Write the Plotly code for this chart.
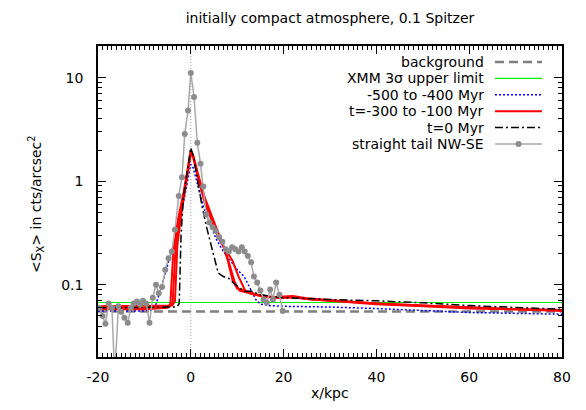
import plotly.graph_objects as go

# ---------------- data ----------------
bg_level = 0.0553
xmm_limit = 0.0675
x_span = [-20, 80]
x_ticks = [-20, 0, 20, 40, 60, 80]
x_tick_labels = ["-20", "0", "20", "40", "60", "80"]
y_ticks = [0.1, 1, 10]
y_tick_labels = ["0.1", "1", "10"]

# observed profile: straight tail NW-SE
obs_x = [-19.7, -19.0, -18.4, -17.7, -17.0, -16.4, -15.6, -15.0, -14.3, -13.6,
         -12.9, -12.3, -11.6, -10.9, -10.3, -9.6, -8.9, -8.2, -7.5, -6.9,
         -6.2, -5.5, -4.8, -4.1, -3.4, -2.6, -1.9, -1.3, -0.6, 0.0,
         0.7, 1.4, 2.1, 2.7, 3.3, 4.0, 4.7, 5.4, 6.1, 6.8,
         7.5, 8.2, 8.9, 9.6, 10.3, 11.0, 11.6, 12.3, 13.0, 13.6,
         14.3, 15.0, 15.7, 16.4, 17.1, 17.7, 18.4, 19.1, 19.8]
obs_y = [0.060, 0.050, 0.042, 0.066, 0.060, 0.013, 0.062, 0.055, 0.048, 0.043,
         0.060, 0.066, 0.069, 0.064, 0.070, 0.066, 0.043, 0.075, 0.100, 0.083,
         0.095, 0.140, 0.180, 0.210, 0.34, 0.72, 1.09, 2.86, 4.8, 11.1,
         6.5, 2.35, 1.47, 0.89, 0.48, 0.40, 0.36, 0.33, 0.29, 0.26,
         0.22, 0.21, 0.23, 0.22, 0.21, 0.23, 0.21, 0.19, 0.165, 0.12,
         0.105, 0.088, 0.072, 0.067, 0.090, 0.072, 0.105, 0.080, 0.056]

# simulation -500 to -400 Myr (blue dotted)
blue_x = [-20, -10, -8.5, -7.5, -6.5, -5.5, -4.5, -3.5, -2.5, -1.5, -0.5, 0, 0.5,
          1.5, 2.7, 4, 5.6, 7, 8.5, 10, 11.5, 13, 14, 15, 17, 20, 25, 30, 40, 50,
          60, 70, 80]
blue_y = [0.056, 0.056, 0.057, 0.065, 0.09, 0.13, 0.19, 0.26, 0.38, 0.65, 1.15,
          1.45, 1.35, 0.9, 0.57, 0.40, 0.27, 0.21, 0.17, 0.14, 0.12, 0.09, 0.072,
          0.065, 0.063, 0.062, 0.062, 0.061, 0.059, 0.056, 0.054, 0.053, 0.052]

# simulations t=-300 to -100 Myr (red)
red1_x = [-20, -10, -5, -4.4, -3.8, -2.8, -1.5, -0.5, 0, 0.5, 1.5, 3, 4.5, 6, 7,
          8, 9, 10, 12, 14, 16, 18, 20, 22, 25, 30, 40, 50, 60, 70, 80]
red1_y = [0.058, 0.058, 0.060, 0.066, 0.20, 0.42, 0.80, 1.5, 2.0, 1.8, 1.2, 0.70,
          0.46, 0.31, 0.24, 0.17, 0.11, 0.092, 0.087, 0.081, 0.078, 0.076, 0.077,
          0.078, 0.074, 0.071, 0.066, 0.063, 0.060, 0.058, 0.057]
red2_x = [-20, -10, -4.5, -3.9, -3.3, -2.4, -1.3, -0.4, 0, 0.5, 1.5, 3, 4.5, 6,
          7.5, 8.5, 9.5, 10.5, 12, 14, 16, 18, 20, 22, 25, 30, 40, 50, 60, 70, 80]
red2_y = [0.060, 0.060, 0.062, 0.068, 0.22, 0.45, 0.85, 1.55, 1.9, 1.75, 1.15,
          0.66, 0.43, 0.29, 0.21, 0.15, 0.105, 0.088, 0.084, 0.080, 0.077,
          0.075, 0.075, 0.076, 0.073, 0.070, 0.065, 0.062, 0.059, 0.058, 0.056]
red3_x = [-20, -10, -4.0, -3.4, -2.9, -2.0, -1.1, -0.3, 0, 0.5, 1.5, 3, 4.5, 6,
          7.5, 9.0, 10.3, 11.7, 13, 15, 17, 19, 21, 23, 26, 30, 40, 50, 60, 70, 80]
red3_y = [0.062, 0.062, 0.063, 0.070, 0.24, 0.50, 0.90, 1.6, 1.85, 1.7, 1.1, 0.62,
          0.42, 0.28, 0.22, 0.17, 0.12, 0.088, 0.082, 0.078, 0.076, 0.075, 0.076,
          0.075, 0.072, 0.070, 0.066, 0.063, 0.060, 0.058, 0.057]

# simulation t=0 Myr (black dash-dot)
black_x = [-20, -10, -3, -2.5, -2.1, -1.6, -0.8, 0, 0.6, 1.5, 2.5, 3.4, 4.8, 5.9,
           7.0, 8.1, 9.2, 11, 12, 13, 15, 17.7, 20, 25, 30, 40, 50, 60, 70, 80]
black_y = [0.060, 0.060, 0.061, 0.066, 0.30, 0.70, 1.25, 2.1, 1.7, 1.0, 0.55,
           0.36, 0.20, 0.13, 0.12, 0.116, 0.104, 0.090, 0.086, 0.087, 0.080,
           0.077, 0.075, 0.074, 0.072, 0.070, 0.067, 0.063, 0.060, 0.058]

legend_labels = ["background", "XMM 3\u03c3 upper limit", "-500 to -400 Myr",
                 "t=-300 to -100 Myr", "t=0 Myr", "straight tail NW-SE"]

# ---------------- styling ----------------
FONT = "DejaVu Sans"
FS = 14
OFF = 8                       # page body margin offset
W, H = 586 - OFF, 410 - OFF
L, R, T, B = 98 - OFF, 24, 46 - OFF, 53
pw, ph = W - L - R, H - T - B

def px2paper_x(px):
    return (px - OFF - L) / pw

def py2paper_y(py):
    return (H + OFF - B - py) / ph

fig = go.Figure()

fig.add_trace(go.Scatter(x=x_span, y=[bg_level, bg_level], mode="lines",
                         line=dict(color="#7f7f7f", width=2.5, dash="9px,5px"),
                         showlegend=False, hoverinfo="skip"))
fig.add_trace(go.Scatter(x=x_span, y=[xmm_limit, xmm_limit], mode="lines",
                         line=dict(color="#00ee00", width=1.2),
                         showlegend=False, hoverinfo="skip"))
fig.add_trace(go.Scatter(x=blue_x, y=blue_y, mode="lines",
                         line=dict(color="#0000ff", width=1.5, dash="2px,2px"),
                         showlegend=False))
for rx, ry in [(red1_x, red1_y), (red2_x, red2_y), (red3_x, red3_y)]:
    fig.add_trace(go.Scatter(x=rx, y=ry, mode="lines",
                             line=dict(color="#ff0000", width=2),
                             showlegend=False))
fig.add_trace(go.Scatter(x=black_x, y=black_y, mode="lines",
                         line=dict(color="#000000", width=1.5, dash="8px,3px,2px,3px"),
                         showlegend=False))
fig.add_trace(go.Scatter(x=obs_x, y=obs_y, mode="lines+markers",
                         line=dict(color="#a8a8a8", width=1.5),
                         marker=dict(color="#8c8c8c", size=6, symbol="circle"),
                         showlegend=False))

fig.add_shape(type="line", xref="x", yref="paper", x0=0, x1=0, y0=0, y1=1,
              line=dict(color="#a0a0a0", width=1, dash="1px,2px"), layer="below")

# ---------------- manual legend (text left of sample) ----------------
row_py = [62.0, 78.4, 94.8, 111.2, 127.6, 144.0]
text_px = 486
s0, s1 = 495, 542
annotations = []
for lab, py in zip(legend_labels, row_py):
    annotations.append(dict(text=lab, xref="paper", yref="paper",
                            x=px2paper_x(text_px), y=py2paper_y(py),
                            xanchor="right", yanchor="middle", showarrow=False,
                            font=dict(family=FONT, size=FS, color="black")))
sample_styles = [
    dict(color="#7f7f7f", width=2.5, dash="9px,5px"),
    dict(color="#00ee00", width=1.2),
    dict(color="#0000ff", width=1.5, dash="2px,2px"),
    dict(color="#ff0000", width=2),
    dict(color="#000000", width=1.5, dash="8px,3px,2px,3px"),
    dict(color="#a8a8a8", width=1.5),
]
for st, py in zip(sample_styles, row_py):
    fig.add_shape(type="line", xref="paper", yref="paper",
                  x0=px2paper_x(s0), x1=px2paper_x(s1),
                  y0=py2paper_y(py), y1=py2paper_y(py), line=st)
cx, cy = (s0 + s1) / 2, row_py[5]
fig.add_shape(type="circle", xref="paper", yref="paper",
              x0=px2paper_x(cx - 3), x1=px2paper_x(cx + 3),
              y0=py2paper_y(cy + 3), y1=py2paper_y(cy - 3),
              fillcolor="#8c8c8c", line=dict(color="#8c8c8c", width=0))

annotations.append(dict(text="x/kpc", xref="paper", yref="paper",
                        x=0.5, y=py2paper_y(393), xanchor="center", yanchor="middle",
                        showarrow=False, font=dict(family=FONT, size=FS, color="black")))
annotations.append(dict(text="&lt;S<sub>X</sub>&gt; in cts/arcsec<sup>2</sup>",
                        xref="paper", yref="paper", x=px2paper_x(36), y=py2paper_y(204),
                        xanchor="center", yanchor="middle", textangle=-90,
                        showarrow=False, font=dict(family=FONT, size=FS, color="black")))

minor_y = [0.02, 0.03, 0.04, 0.05, 0.06, 0.07, 0.08, 0.09,
           0.2, 0.3, 0.4, 0.5, 0.6, 0.7, 0.8, 0.9,
           2, 3, 4, 5, 6, 7, 8, 9, 20]

fig.update_layout(
    width=W, height=H,
    margin=dict(l=L, r=R, t=T, b=B),
    paper_bgcolor="white", plot_bgcolor="white",
    font=dict(family=FONT, size=FS, color="black"),
    title=dict(text="initially compact atmosphere, 0.1 Spitzer",
               xref="paper", x=0.5, xanchor="center",
               yref="container", y=1 - (18 - OFF) / H, yanchor="middle",
               font=dict(family=FONT, size=FS, color="black")),
    annotations=annotations,
    showlegend=False,
)
fig.update_xaxes(range=x_span, tickvals=x_ticks, ticktext=x_tick_labels,
                 ticks="inside", ticklen=8, tickwidth=1, tickcolor="black",
                 minor=dict(dtick=1, tick0=0, ticks="inside", ticklen=4,
                            tickcolor="black", tickwidth=1),
                 showline=True, linecolor="black", linewidth=1.5, mirror="allticks",
                 showgrid=False, zeroline=False, ticklabelstandoff=6,
                 tickfont=dict(family=FONT, size=FS))
fig.update_yaxes(type="log", range=[-1.697, 1.305],
                 tickvals=y_ticks, ticktext=y_tick_labels,
                 ticks="inside", ticklen=8, tickwidth=1, tickcolor="black",
                 minor=dict(tickvals=minor_y, ticks="inside", ticklen=4,
                            tickcolor="black", tickwidth=1),
                 showline=True, linecolor="black", linewidth=1.5, mirror="allticks",
                 showgrid=False, zeroline=False, ticklabelstandoff=10,
                 tickfont=dict(family=FONT, size=FS))

fig.write_html("out.html")
